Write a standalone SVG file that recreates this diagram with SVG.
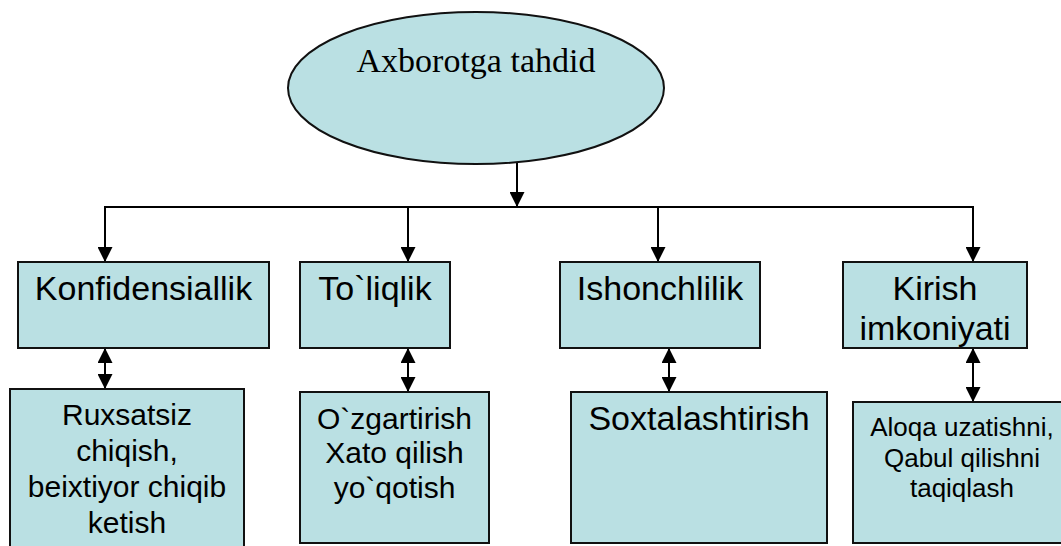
<svg xmlns="http://www.w3.org/2000/svg" width="1061" height="546" viewBox="0 0 1061 546">
  <style>
    .node { fill: #BAE0E3; stroke: #111; stroke-width: 2; }
    .wire { fill: none; stroke: #000; stroke-width: 2; }
    .lbl { font-family: "Liberation Sans", Arial, sans-serif; fill: #000; text-anchor: middle; }
    .top { font-size: 34px; }
    .mid { font-size: 30px; }
    .sm { font-size: 26px; }
    .title { font-family: "Liberation Serif", "Times New Roman", serif; font-size: 34px; fill: #000; text-anchor: middle; }
  </style>
  <defs>
    <marker id="head" viewBox="0 0 15 15" refX="15" refY="7.5" markerWidth="15" markerHeight="15" markerUnits="userSpaceOnUse" orient="auto-start-reverse">
      <path d="M0,0 L15,7.5 L0,15 Z" fill="#000"/>
    </marker>
  </defs>

  <rect width="1061" height="546" fill="#fff"/>

  <!-- connectors -->
  <g id="connectors">
    <line class="wire" x1="517" y1="163" x2="517" y2="207" marker-end="url(#head)"/>
    <line class="wire" x1="104" y1="207" x2="974" y2="207"/>
    <line class="wire" x1="105" y1="207" x2="105" y2="262" marker-end="url(#head)"/>
    <line class="wire" x1="408" y1="207" x2="408" y2="262" marker-end="url(#head)"/>
    <line class="wire" x1="658" y1="207" x2="658" y2="262" marker-end="url(#head)"/>
    <line class="wire" x1="973" y1="207" x2="973" y2="262" marker-end="url(#head)"/>
    <line class="wire" x1="105" y1="348" x2="105" y2="389" marker-start="url(#head)" marker-end="url(#head)"/>
    <line class="wire" x1="408" y1="348" x2="408" y2="392" marker-start="url(#head)" marker-end="url(#head)"/>
    <line class="wire" x1="669" y1="348" x2="669" y2="392" marker-start="url(#head)" marker-end="url(#head)"/>
    <line class="wire" x1="973" y1="348" x2="973" y2="402" marker-start="url(#head)" marker-end="url(#head)"/>
  </g>

  <!-- root -->
  <g id="root">
    <ellipse cx="476" cy="88" rx="188" ry="76" fill="#BAE0E3" stroke="#111" stroke-width="2"/>
    <text class="title" x="476" y="72">Axborotga tahdid</text>
  </g>

  <!-- first level -->
  <g id="konfidensiallik">
    <rect class="node" x="18" y="262" width="251" height="86"/>
    <text class="lbl top" x="143.5" y="300">Konfidensiallik</text>
  </g>
  <g id="toliqlik">
    <rect class="node" x="300" y="262" width="150" height="86"/>
    <text class="lbl top" x="375" y="300">To`liqlik</text>
  </g>
  <g id="ishonchlilik">
    <rect class="node" x="560" y="262" width="200" height="86"/>
    <text class="lbl top" x="660" y="300">Ishonchlilik</text>
  </g>
  <g id="kirish">
    <rect class="node" x="843" y="262" width="184" height="86"/>
    <text class="lbl top" x="935" y="300">Kirish</text>
    <text class="lbl top" x="935" y="340">imkoniyati</text>
  </g>

  <!-- second level -->
  <g id="ruxsatsiz">
    <rect class="node" x="10" y="389" width="234" height="170"/>
    <text class="lbl mid" x="127" y="425">Ruxsatsiz</text>
    <text class="lbl mid" x="127" y="461">chiqish,</text>
    <text class="lbl mid" x="127" y="497">beixtiyor chiqib</text>
    <text class="lbl mid" x="127" y="533">ketish</text>
  </g>
  <g id="ozgartirish">
    <rect class="node" x="300" y="392" width="189" height="151"/>
    <text class="lbl mid" x="394.5" y="429">O`zgartirish</text>
    <text class="lbl mid" x="394.5" y="463">Xato qilish</text>
    <text class="lbl mid" x="394.5" y="498">yo`qotish</text>
  </g>
  <g id="soxtalashtirish">
    <rect class="node" x="571" y="392" width="256" height="151"/>
    <text class="lbl top" x="699" y="430">Soxtalashtirish</text>
  </g>
  <g id="aloqa">
    <rect class="node" x="853" y="402" width="220" height="141"/>
    <text class="lbl sm" x="962" y="436">Aloqa uzatishni,</text>
    <text class="lbl sm" x="962" y="467">Qabul qilishni</text>
    <text class="lbl sm" x="962" y="497">taqiqlash</text>
  </g>
</svg>
